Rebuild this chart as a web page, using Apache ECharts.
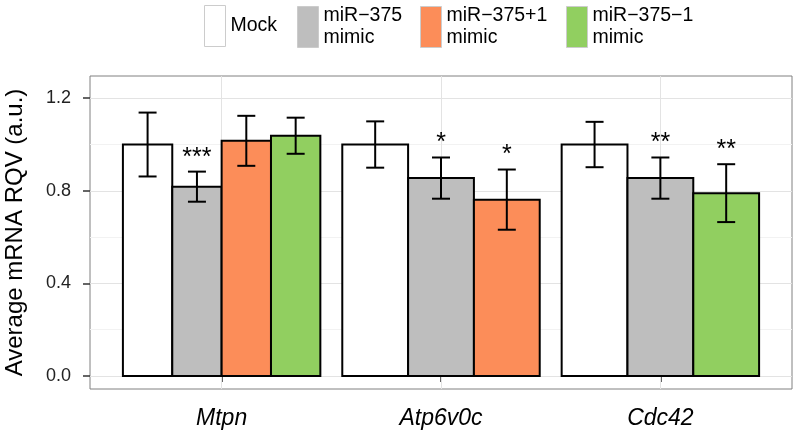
<!DOCTYPE html>
<html>
<head>
<meta charset="utf-8">
<script src="https://cdn.jsdelivr.net/npm/echarts@6/dist/echarts.min.js"></script>
<style>
  html, body { margin: 0; padding: 0; background: #fff; }
  #chart { width: 798px; height: 434px; }
</style>
</head>
<body>
<div id="chart"></div>
<script>
// gene groups on the x axis
var genes = ['Mtpn', 'Atp6v0c', 'Cdc42'];
// treatments (legend order)
var treatments = ['Mock', 'miR\u2212375\nmimic', 'miR\u2212375+1\nmimic', 'miR\u2212375\u22121\nmimic'];
var colors = ['#ffffff', '#bebebe', '#fc8d59', '#91cf60'];

// mean per gene, null = not measured
var mockMean   = [1.000, 1.000, 1.000];
var mir375Mean = [0.818, 0.855, 0.855];
var plus1Mean  = [1.016, 0.762, null];
var minus1Mean = [1.038, null, 0.790];

// error (+/-)
var mockErr   = [0.138, 0.100, 0.098];
var mir375Err = [0.065, 0.089, 0.089];
var plus1Err  = [0.108, 0.130, null];
var minus1Err = [0.078, null, 0.125];

// significance marks
var mockStars   = ['', '', ''];
var mir375Stars = ['***', '*', '**'];
var plus1Stars  = ['', '*', ''];
var minus1Stars = ['', '', '**'];

var yTicks = [0, 0.4, 0.8, 1.2];
var yMinor = [0.2, 0.6, 1.0];

var means = [mockMean, mir375Mean, plus1Mean, minus1Mean];
var errs = [mockErr, mir375Err, plus1Err, minus1Err];
var stars = [mockStars, mir375Stars, plus1Stars, minus1Stars];

// dodge: bars of one gene share 0.9 of the category width
function seriesData(t) {
  var out = [];
  genes.forEach(function (g, gi) {
    if (means[t][gi] == null) return;
    var present = [];
    for (var k = 0; k < treatments.length; k++) if (means[k][gi] != null) present.push(k);
    var n = present.length, pos = present.indexOf(t), w = 0.9 / n;
    var xc = gi + 1 - 0.45 + (pos + 0.5) * w;
    out.push({ value: [xc, means[t][gi], errs[t][gi], w / 2], star: stars[t][gi] });
  });
  return out;
}

var chart = echarts.init(document.getElementById('chart'));
var FONT = 'Liberation Sans';
var allData = treatments.map(function (n, t) { return seriesData(t); });

function renderBar(params, api) {
  var t = params.seriesIndex;
  var x = api.value(0), y = api.value(1), e = api.value(2), hw = api.value(3);
  var p0 = api.coord([x - hw, y]);
  var p1 = api.coord([x + hw, 0]);
  var top = api.coord([x, y + e]);
  var bot = api.coord([x, y - e]);
  var capL = api.coord([x - 0.041, y])[0];
  var capR = api.coord([x + 0.041, y])[0];
  var star = allData[t][params.dataIndex].star;
  var children = [
    { type: 'rect', shape: { x: p0[0], y: p0[1], width: p1[0] - p0[0], height: p1[1] - p0[1] },
      style: { fill: colors[t], stroke: '#000', lineWidth: 2 } },
    { type: 'line', shape: { x1: top[0], y1: top[1], x2: bot[0], y2: bot[1] }, style: { stroke: '#000', lineWidth: 2 } },
    { type: 'line', shape: { x1: capL, y1: top[1], x2: capR, y2: top[1] }, style: { stroke: '#000', lineWidth: 2 } },
    { type: 'line', shape: { x1: capL, y1: bot[1], x2: capR, y2: bot[1] }, style: { stroke: '#000', lineWidth: 2 } }
  ];
  if (star) {
    children.push({ type: 'text', x: top[0], y: top[1] - 14,
      style: { text: star, fontFamily: FONT, fontSize: 25, fill: '#000', align: 'center', verticalAlign: 'middle' } });
  }
  return { type: 'group', children: children };
}

var series = treatments.map(function (name, t) {
  return {
    name: name, type: 'custom', renderItem: renderBar, z: 10,
    itemStyle: { color: colors[t] },
    encode: { x: 0, y: 1 },
    data: allData[t]
  };
});

// background grid lines
series.push({
  name: 'grid', type: 'line', data: [], z: 1, silent: true,
  markLine: {
    silent: true, z: 1, symbol: ['none', 'none'], label: { show: false },
    data: yMinor.map(function (v) { return { yAxis: v, lineStyle: { color: '#f2f2f2', width: 1, type: 'solid' } }; })
      .concat(yTicks.map(function (v) { return { yAxis: v, lineStyle: { color: '#e3e3e3', width: 1, type: 'solid' } }; }))
      .concat(genes.map(function (g, i) { return { xAxis: i + 1, lineStyle: { color: '#e3e3e3', width: 1, type: 'solid' } }; }))
  }
});

var legendLeft = [204, 297, 420, 566];
var legends = treatments.map(function (name, t) {
  return {
    left: legendLeft[t], top: 5, orient: 'horizontal', padding: 0,
    itemWidth: 21, itemHeight: 41,
    selectedMode: false,
    textStyle: { fontFamily: FONT, fontSize: 19.5, color: '#000', lineHeight: 22 },
    data: [{ name: name, icon: 'rect', itemStyle: { color: colors[t], borderColor: '#cccccc', borderWidth: 1 } }]
  };
});

chart.setOption({
  animation: false,
  backgroundColor: '#fff',
  legend: legends,
  grid: { left: 90, right: 6, top: 76, bottom: 45, outerBoundsMode: 'none', containLabel: false,
    show: true, borderColor: '#808080', borderWidth: 1, backgroundColor: 'transparent' },
  xAxis: {
    type: 'value', min: 0.4, max: 3.6,
    axisLine: { show: false },
    splitLine: { show: false },
    axisTick: { show: true, customValues: [1, 2, 3], length: 6, lineStyle: { color: '#333', width: 1.5 } },
    axisLabel: {
      customValues: [1, 2, 3], margin: 18,
      fontFamily: FONT, fontSize: 23, fontStyle: 'italic', color: '#000',
      formatter: function (v) { return genes[Math.round(v) - 1]; }
    }
  },
  yAxis: {
    type: 'value', min: -0.056, max: 1.296,
    name: 'Average mRNA RQV (a.u.)', nameLocation: 'middle', nameGap: 63,
    nameTextStyle: { fontFamily: FONT, fontSize: 24, color: '#000' },
    axisLine: { show: false },
    splitLine: { show: false },
    axisTick: { show: true, customValues: yTicks, length: 7, lineStyle: { color: '#333', width: 1.5 } },
    axisLabel: {
      customValues: yTicks, margin: 19,
      fontFamily: FONT, fontSize: 18, color: '#222',
      formatter: function (v) { return v.toFixed(1); }
    }
  },
  series: series
});
</script>
</body>
</html>
